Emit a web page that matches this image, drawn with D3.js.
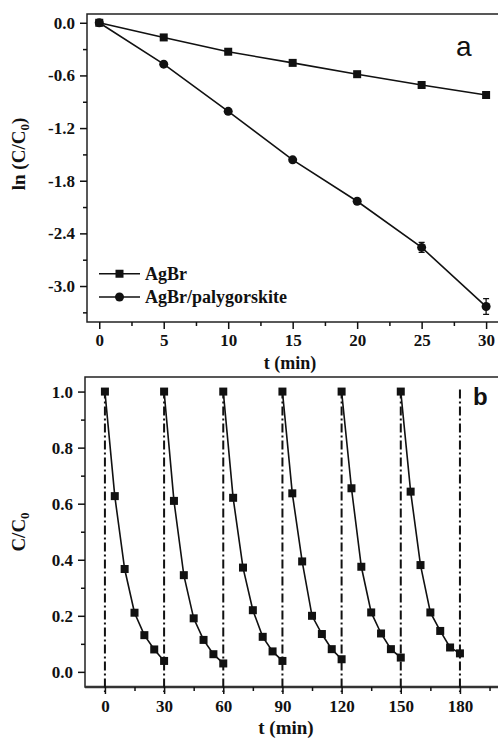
<!DOCTYPE html>
<html>
<head>
<meta charset="utf-8">
<script src="https://cdn.jsdelivr.net/npm/d3@7"></script>
<style>
  body { margin: 0; background: #fff; }
  svg { display: block; }
  .tick text { font-family: "Liberation Serif", "Times New Roman", serif; font-weight: bold; font-size: 17px; fill: #111; }
  .lbl { font-family: "Liberation Serif", "Times New Roman", serif; font-weight: bold; fill: #111; }
</style>
</head>
<body>
<div id="chart"></div>
<script>
// panel a: ln(C/C0) vs time
const timesA = [0, 5, 10, 15, 20, 25, 30];
const agbr = [0, -0.167, -0.33, -0.457, -0.586, -0.709, -0.823];
const agbrErr = [0, 0.01, 0.01, 0.01, 0.015, 0.02, 0.02];
const agbrPal = [0, -0.472, -1.009, -1.562, -2.034, -2.56, -3.234];
const agbrPalErr = [0, 0.01, 0.015, 0.02, 0.03, 0.057, 0.09];
const yTicksA = [0, -0.6, -1.2, -1.8, -2.4, -3.0];
const yMinorA = [-0.3, -0.9, -1.5, -2.1, -2.7, -3.3];
const xTicksA = [0, 5, 10, 15, 20, 25, 30];
const xMinorA = [2.5, 7.5, 12.5, 17.5, 22.5, 27.5];

// panel b: recycling runs
const cycleStarts = [0, 30, 60, 90, 120, 150];
const cycleOffsets = [0, 5, 10, 15, 20, 25, 30];
const cycle1 = [1.0, 0.627, 0.367, 0.211, 0.131, 0.08, 0.039];
const cycle2 = [1.0, 0.61, 0.345, 0.191, 0.114, 0.063, 0.03];
const cycle3 = [1.0, 0.621, 0.372, 0.22, 0.125, 0.073, 0.039];
const cycle4 = [1.0, 0.637, 0.394, 0.2, 0.135, 0.081, 0.045];
const cycle5 = [1.0, 0.655, 0.375, 0.212, 0.137, 0.081, 0.051];
const cycle6 = [1.0, 0.643, 0.381, 0.212, 0.146, 0.087, 0.066];
const cycleLines = [0, 30, 60, 90, 120, 150, 180];
const yTicksB = [0, 0.2, 0.4, 0.6, 0.8, 1.0];
const yMinorB = [0.1, 0.3, 0.5, 0.7, 0.9];
const xTicksB = [0, 30, 60, 90, 120, 150, 180];
const xMinorB = [15, 45, 75, 105, 135, 165, 195];

const width = 498, height = 740;
const svg = d3.select("#chart").append("svg")
  .attr("width", width).attr("height", height);

const fmt1 = d => d.toFixed(1);   // plain hyphen minus like the original

// ---------- panel a ----------
const xA = d3.scaleLinear().domain([-0.95, 31.0]).range([87, 499]);
const yA = d3.scaleLinear().domain([0.1, -3.41]).range([14, 322]);

const gA = svg.append("g");
gA.append("rect")
  .attr("x", 87).attr("y", 14).attr("width", 412).attr("height", 308)
  .attr("fill", "none").attr("stroke", "#222").attr("stroke-width", 1.5);

function styleAxis(g) {
  g.select(".domain").remove();
  g.selectAll(".tick line").attr("stroke", "#111").attr("stroke-width", 1.5);
}

gA.append("g").attr("transform", "translate(87,0)")
  .call(d3.axisLeft(yA).tickValues(yTicksA).tickSize(7).tickPadding(5).tickFormat(fmt1))
  .call(styleAxis);
gA.append("g").attr("transform", "translate(87,0)")
  .call(d3.axisLeft(yA).tickValues(yMinorA).tickSize(4).tickFormat(""))
  .call(styleAxis);
gA.append("g").attr("transform", "translate(0,322)")
  .call(d3.axisBottom(xA).tickValues(xTicksA).tickSize(7).tickPadding(5).tickFormat(d3.format("d")))
  .call(styleAxis);
gA.append("g").attr("transform", "translate(0,322)")
  .call(d3.axisBottom(xA).tickValues(xMinorA).tickSize(4).tickFormat(""))
  .call(styleAxis);

const lineA = d3.line().x(d => xA(d[0])).y(d => yA(d[1]));
const serA = [
  { vals: agbr, err: agbrErr, shape: "square" },
  { vals: agbrPal, err: agbrPalErr, shape: "circle" }
];
serA.forEach(s => {
  const pts = timesA.map((t, i) => [t, s.vals[i], s.err[i]]);
  gA.append("path").datum(pts).attr("d", lineA)
    .attr("fill", "none").attr("stroke", "#111").attr("stroke-width", 1.6);
  // error bars
  gA.selectAll(null).data(pts.filter(d => d[2] > 0)).join("path")
    .attr("d", d => {
      const x = xA(d[0]), y1 = yA(d[1] + d[2]), y2 = yA(d[1] - d[2]);
      return `M${x - 3},${y1}H${x + 3}M${x},${y1}V${y2}M${x - 3},${y2}H${x + 3}`;
    })
    .attr("stroke", "#111").attr("stroke-width", 1.3).attr("fill", "none");
  if (s.shape === "square") {
    gA.selectAll(null).data(pts).join("rect")
      .attr("x", d => xA(d[0]) - 4).attr("y", d => yA(d[1]) - 4)
      .attr("width", 8).attr("height", 8).attr("fill", "#111");
  } else {
    gA.selectAll(null).data(pts).join("circle")
      .attr("cx", d => xA(d[0])).attr("cy", d => yA(d[1]))
      .attr("r", 4.5).attr("fill", "#111");
  }
});

// legend
const legA = [
  { name: "AgBr", shape: "square", y: -2.86 },
  { name: "AgBr/palygorskite", shape: "circle", y: -3.125 }
];
legA.forEach(l => {
  const y = yA(l.y);
  gA.append("line").attr("x1", 99).attr("x2", 140).attr("y1", y).attr("y2", y)
    .attr("stroke", "#111").attr("stroke-width", 1.6);
  if (l.shape === "square") {
    gA.append("rect").attr("x", 115.5).attr("y", y - 4).attr("width", 8).attr("height", 8).attr("fill", "#111");
  } else {
    gA.append("circle").attr("cx", 119.5).attr("cy", y).attr("r", 4.5).attr("fill", "#111");
  }
  gA.append("text").attr("class", "lbl").attr("x", 145).attr("y", y + 6.5)
    .attr("font-size", 18).text(l.name);
});

gA.append("text").attr("x", 456).attr("y", 56)
  .attr("font-family", "Liberation Sans, Arial, sans-serif").attr("font-size", 28)
  .attr("fill", "#111").text("a");

gA.append("text").attr("class", "lbl").attr("font-size", 18)
  .attr("x", 290).attr("y", 369).attr("text-anchor", "middle").text("t (min)");
const ylA = gA.append("text").attr("class", "lbl").attr("font-size", 19)
  .attr("transform", "translate(25,154) rotate(-90)").attr("text-anchor", "middle");
ylA.append("tspan").text("ln (C/C");
ylA.append("tspan").attr("font-size", 13).attr("dy", 4).text("0");
ylA.append("tspan").attr("dy", -4).text(")");

// ---------- panel b ----------
const xB = d3.scaleLinear().domain([-10.1, 199.8]).range([85, 499]);
const yB = d3.scaleLinear().domain([1.052, -0.054]).range([377, 687]);

const gB = svg.append("g");
gB.append("rect")
  .attr("x", 85).attr("y", 377).attr("width", 414).attr("height", 310)
  .attr("fill", "none").attr("stroke", "#222").attr("stroke-width", 1.5);
gB.append("line").attr("x1", 85).attr("x2", 499).attr("y1", 687).attr("y2", 687)
  .attr("stroke", "#333").attr("stroke-width", 2.5);

gB.append("g").attr("transform", "translate(85,0)")
  .call(d3.axisLeft(yB).tickValues(yTicksB).tickSize(7).tickPadding(5).tickFormat(fmt1))
  .call(styleAxis);
gB.append("g").attr("transform", "translate(85,0)")
  .call(d3.axisLeft(yB).tickValues(yMinorB).tickSize(4).tickFormat(""))
  .call(styleAxis);
gB.append("g").attr("transform", "translate(0,687)")
  .call(d3.axisBottom(xB).tickValues(xTicksB).tickSize(7).tickPadding(6).tickFormat(d3.format("d")))
  .call(styleAxis);
gB.append("g").attr("transform", "translate(0,687)")
  .call(d3.axisBottom(xB).tickValues(xMinorB).tickSize(4).tickFormat(""))
  .call(styleAxis);

// dash-dot cycle separators
gB.selectAll(null).data(cycleLines).join("line")
  .attr("x1", d => xB(d)).attr("x2", d => xB(d))
  .attr("y1", yB(1.0) - 2).attr("y2", 692)
  .attr("stroke", "#111").attr("stroke-width", 2)
  .attr("stroke-dasharray", "9,3,2,3");

const cycles = [cycle1, cycle2, cycle3, cycle4, cycle5, cycle6];
const lineB = d3.line().x(d => xB(d[0])).y(d => yB(d[1]));
cycles.forEach((vals, ci) => {
  const pts = cycleOffsets.map((o, i) => [cycleStarts[ci] + o, vals[i]]);
  gB.append("path").datum(pts).attr("d", lineB)
    .attr("fill", "none").attr("stroke", "#111").attr("stroke-width", 1.6);
  gB.selectAll(null).data(pts).join("rect")
    .attr("x", d => xB(d[0]) - 4).attr("y", d => yB(d[1]) - 4)
    .attr("width", 8).attr("height", 8).attr("fill", "#111");
});

gB.append("text").attr("x", 473).attr("y", 405)
  .attr("font-family", "Liberation Sans, Arial, sans-serif").attr("font-weight", "bold")
  .attr("font-size", 24).attr("fill", "#111").text("b");

gB.append("text").attr("class", "lbl").attr("font-size", 19)
  .attr("x", 286).attr("y", 734).attr("text-anchor", "middle").text("t (min)");
const ylB = gB.append("text").attr("class", "lbl").attr("font-size", 19)
  .attr("transform", "translate(25,532) rotate(-90)").attr("text-anchor", "middle");
ylB.append("tspan").text("C/C");
ylB.append("tspan").attr("font-size", 13).attr("dy", 4).text("0");
</script>
</body>
</html>
